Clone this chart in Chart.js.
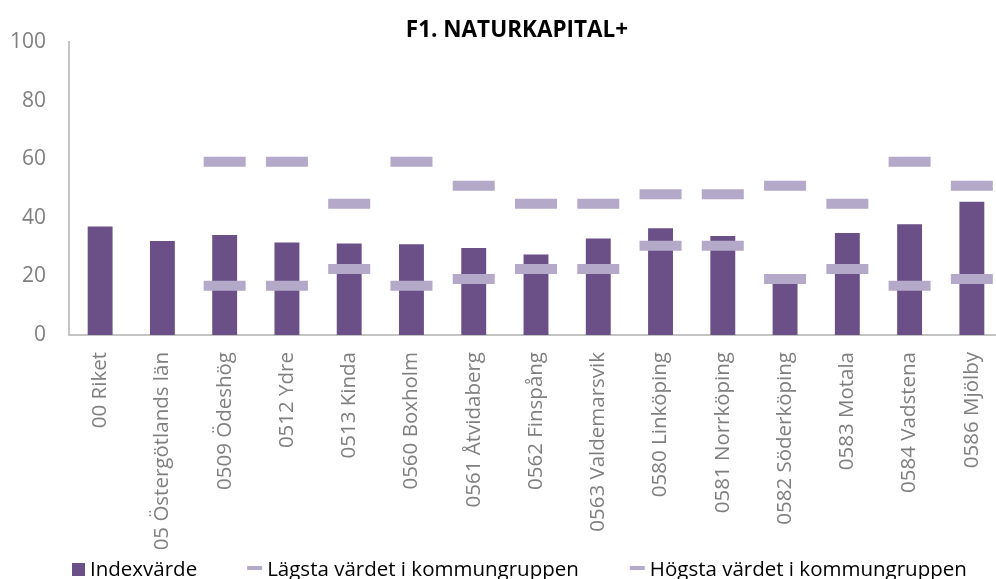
<!DOCTYPE html>
<html>
<head>
<meta charset="utf-8">
<script src="https://cdn.jsdelivr.net/npm/chart.js@4.4.0/dist/chart.umd.min.js"></script>
<style>
  html, body { margin: 0; padding: 0; overflow: hidden; background: #fff; }
  canvas { display: block; }
</style>
</head>
<body>
<canvas id="naturChart" width="1034" height="579"></canvas>
<script>
// Kategorier och värden
var kommuner = ['00 Riket', '05 Östergötlands län', '0509 Ödeshög', '0512 Ydre', '0513 Kinda',
  '0560 Boxholm', '0561 Åtvidaberg', '0562 Finspång', '0563 Valdemarsvik', '0580 Linköping',
  '0581 Norrköping', '0582 Söderköping', '0583 Motala', '0584 Vadstena', '0586 Mjölby'];
var indexvarde = [37.0, 32.1, 34.1, 31.6, 31.2, 31.0, 29.7, 27.5, 32.9, 36.4, 33.8, 18.5, 34.8, 37.8, 45.5];
var lagsta = [null, null, 16.8, 16.8, 22.5, 16.8, 19.1, 22.5, 22.5, 30.5, 30.5, 19.1, 22.5, 16.8, 19.1];
var hogsta = [null, null, 59.1, 59.1, 44.8, 59.1, 50.9, 44.8, 44.8, 48.0, 48.0, 50.9, 44.8, 59.1, 50.9];
var yTicks = [0, 20, 40, 60, 80, 100];

var lila = '#6a5087';
var ljuslila = '#b4a9c8';
var gra = '#7f7f7f';

// egen legend längst ner
var legendPlugin = {
  id: 'bottomLegend',
  afterDraw: function (chart) {
    var ctx = chart.ctx;
    ctx.save();
    ctx.font = '20.5px "Open Sans"';
    ctx.textBaseline = 'alphabetic';
    var x = 72;
    var gaps = [50, 51, 0];
    chart.data.datasets.forEach(function (ds, i) {
      if (ds.type === 'line') {
        ctx.fillStyle = ljuslila;
        ctx.fillRect(x, 566, 15, 4);
        x += 15 + 5;
      } else {
        ctx.fillStyle = lila;
        ctx.fillRect(x, 563, 13, 13);
        x += 13 + 5;
      }
      ctx.fillStyle = '#000';
      ctx.fillText(ds.label, x, 576);
      x += ctx.measureText(ds.label).width + gaps[i];
    });
    ctx.restore();
  }
};

var ctx = document.getElementById('naturChart').getContext('2d');
var naturChart = new Chart(ctx, {
  type: 'bar',
  data: {
    labels: kommuner,
    datasets: [{
      label: 'Indexvärde',
      data: indexvarde,
      backgroundColor: lila,
      barPercentage: 0.4,
      categoryPercentage: 1.0,
      order: 2
    }, {
      type: 'line',
      label: 'Lägsta värdet i kommungruppen',
      data: lagsta,
      showLine: false,
      pointStyle: 'line',
      pointRadius: 21,
      pointHoverRadius: 21,
      pointBorderWidth: 10,
      pointBorderColor: ljuslila,
      borderColor: ljuslila,
      order: 1
    }, {
      type: 'line',
      label: 'Högsta värdet i kommungruppen',
      data: hogsta,
      showLine: false,
      pointStyle: 'line',
      pointRadius: 21,
      pointHoverRadius: 21,
      pointBorderWidth: 10,
      pointBorderColor: ljuslila,
      borderColor: ljuslila,
      order: 0
    }]
  },
  options: {
    responsive: false,
    animation: false,
    devicePixelRatio: 1,
    layout: { padding: { left: 0, right: 0, top: 0, bottom: 30 } },
    plugins: {
      legend: { display: false },
      tooltip: { enabled: false },
      title: {
        display: true,
        text: 'F1. NATURKAPITAL+',
        color: '#000',
        font: { family: 'Open Sans', size: 22.5, weight: 'bold', lineHeight: 1 },
        padding: { top: 19.5, bottom: 0 }
      }
    },
    scales: {
      x: {
        grid: { display: false, drawTicks: false },
        border: { color: '#c4c4c4', width: 2 },
        ticks: {
          autoSkip: false,
          minRotation: 90,
          maxRotation: 90,
          padding: 17,
          color: gra,
          font: { family: 'Open Sans', size: 20.5 }
        },
        afterFit: function (s) { s.height = 214; }
      },
      y: {
        min: 0,
        max: 100,
        afterBuildTicks: function (s) { s.ticks = yTicks.map(function (v) { return { value: v }; }); },
        grid: { display: false, drawTicks: false },
        border: { color: '#c4c4c4', width: 2 },
        ticks: {
          padding: 23,
          color: gra,
          font: { family: 'Open Sans', size: 21 }
        },
        afterFit: function (s) { s.width = 69; }
      },
      // tom axel till höger, håller plats utanför bilden
      yRight: {
        position: 'right',
        grid: { display: false, drawTicks: false },
        border: { display: false },
        ticks: { display: false },
        afterFit: function (s) { s.width = 22; }
      }
    }
  },
  plugins: [legendPlugin]
});
</script>
</body>
</html>
